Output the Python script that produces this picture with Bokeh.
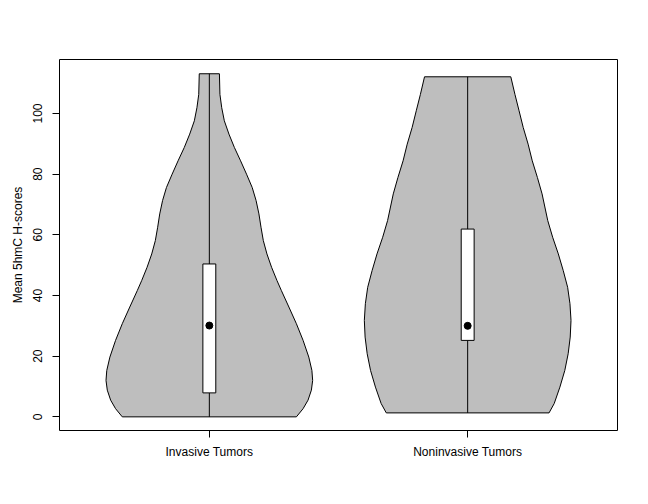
from bokeh.plotting import figure
from bokeh.models import FixedTicker, Title
from bokeh.embed import file_html
from bokeh.resources import INLINE

# groups and their positions on the x axis
groups = ["Invasive Tumors", "Noninvasive Tumors"]
positions = [1, 2]

# violin outlines: score level and half width (x units)
inv_levels = [0.0, 2.7, 5.5, 8.8, 12.0, 15.3, 19.7, 25.2, 30.7, 36.2, 41.6,
              44.9, 49.3, 53.7, 58.1, 62.5, 66.9, 71.3, 75.6, 80.0, 84.4,
              88.8, 93.2, 97.6, 101.9, 106.3, 113.1]
inv_halfw = [0.337, 0.363, 0.382, 0.395, 0.400, 0.397, 0.385, 0.363, 0.337,
             0.308, 0.279, 0.262, 0.241, 0.223, 0.209, 0.200, 0.192, 0.181,
             0.166, 0.144, 0.121, 0.097, 0.076, 0.058, 0.048, 0.041, 0.039]

non_levels = [1.3, 4.4, 9.8, 15.3, 20.8, 26.3, 31.8, 37.3, 42.7, 48.2, 53.7,
              59.2, 64.7, 73.5, 78.9, 84.4, 89.9, 95.4, 100.9, 106.3, 112.1]
non_halfw = [0.315, 0.335, 0.357, 0.376, 0.389, 0.397, 0.400, 0.396, 0.387,
             0.370, 0.351, 0.329, 0.310, 0.288, 0.270, 0.250, 0.234, 0.215,
             0.199, 0.183, 0.167]

# box stats
q1 = [7.9, 25.2]
q3 = [50.4, 61.9]
medians = [30.1, 30.0]
lows = [0.0, 1.3]
highs = [113.1, 112.1]

p = figure(width=648, height=504,
           x_range=(0.42, 2.58), y_range=(-4.5, 117.8),
           output_backend="svg", toolbar_location=None,
           min_border_left=59, min_border_top=59,
           min_border_right=31, min_border_bottom=74)

for pos, lev, hw in [(positions[0], inv_levels, inv_halfw),
                     (positions[1], non_levels, non_halfw)]:
    xs = [pos - w for w in hw] + [pos + w for w in reversed(hw)]
    ys = list(lev) + list(reversed(lev))
    p.patch(xs, ys, fill_color="#BEBEBE", line_color="black", line_width=1)

p.segment(x0=positions, y0=lows, x1=positions, y1=highs,
          line_color="black", line_width=1)
p.quad(left=[x - 0.025 for x in positions], right=[x + 0.025 for x in positions],
       bottom=q1, top=q3, fill_color="white", line_color="black", line_width=1)
p.scatter(positions, medians, size=7, color="black")

p.xgrid.visible = False
p.ygrid.visible = False
p.outline_line_color = "black"
p.outline_line_alpha = 1
p.outline_line_width = 1

font = "Liberation Sans"

p.xaxis.ticker = FixedTicker(ticks=positions)
p.xaxis.major_label_overrides = {1: groups[0], 2: groups[1]}
p.yaxis.ticker = FixedTicker(ticks=[0, 20, 40, 60, 80, 100])
p.yaxis.major_label_orientation = "vertical"

for ax in p.xaxis + p.yaxis:
    ax.axis_line_color = None
    ax.minor_tick_line_color = None
    ax.major_tick_in = 0
    ax.major_tick_out = 7
    ax.major_tick_line_color = "black"
    ax.major_label_text_font = font
    ax.major_label_text_font_size = "12px"
    ax.major_label_text_color = "black"

p.xaxis.major_label_standoff = 7
p.yaxis.major_label_standoff = 10

# y label sits a little above the middle of the frame in the original
ylab = Title(text="Mean 5hmC H-scores", align="center", offset=15,
             text_font=font, text_font_size="12px", text_font_style="normal",
             text_color="black", standoff=11)
p.add_layout(ylab, "left")

open("out.html", "w").write(file_html(p, INLINE))
